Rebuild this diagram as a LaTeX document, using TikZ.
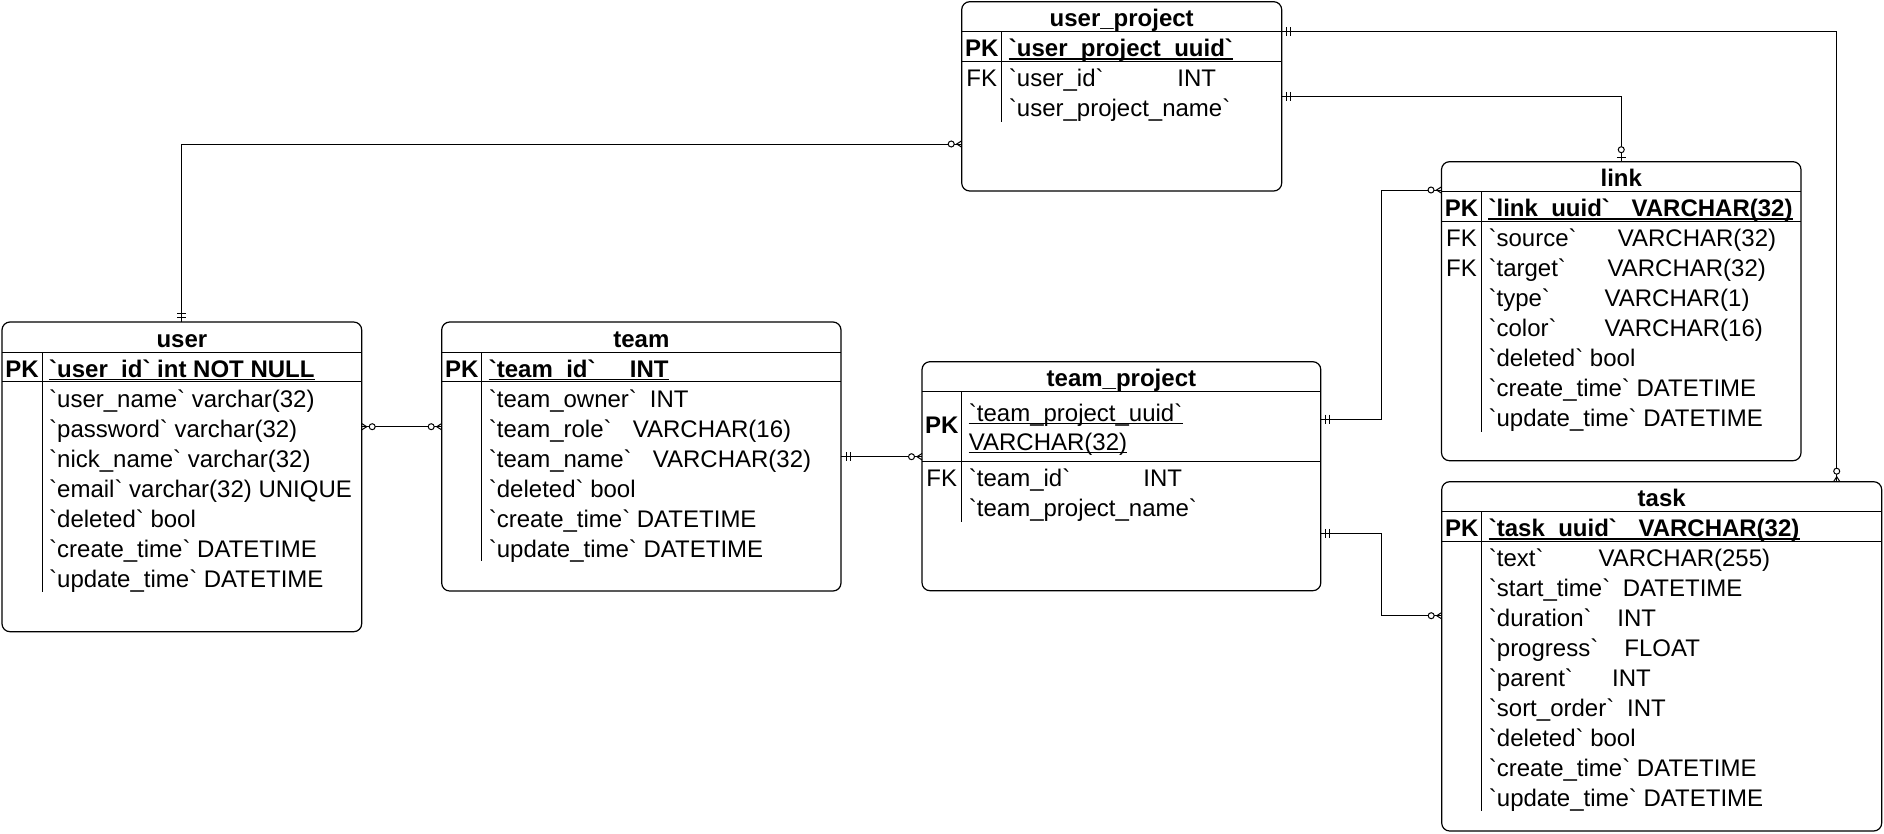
\documentclass[tikz,border=0pt]{standalone}
\usepackage{fontspec}
\newfontfamily\erfont{Liberation Sans}
\newcommand\fld[3]{\makebox[#2pt][l]{#1}#3}
\newcommand\erbox[8]{%
  \node[tbl, anchor=north west, minimum width={#4-#2}, minimum height={#5-#3}] (#1) at (#2,#3) {};
  \draw[sepline] (#2,#3+30) -- (#4,#3+30) (#2,#6) -- (#4,#6) (#7,#3+30) -- (#7,#8);
}
\newcommand\undl[2][1.6pt]{\draw[line width=#1] ([yshift=-2.3pt]#2.base west) -- ([yshift=-2.3pt]#2.base east);}
\begin{document}
\begin{tikzpicture}[x=1pt,y=-1pt,
  tbl/.style={draw, line width=1.2pt, rounded corners=8pt, inner sep=0pt, outer sep=0pt},
  sepline/.style={line width=1pt},
  ttl/.style={font=\erfont\fontsize{24}{28}\selectfont\bfseries, anchor=base, inner sep=0pt},
  pkl/.style={font=\erfont\fontsize{24}{28}\selectfont\bfseries, anchor=base, inner sep=0pt},
  fkl/.style={font=\erfont\fontsize{24}{28}\selectfont, anchor=base, inner sep=0pt},
  pkf/.style={font=\erfont\fontsize{24}{28}\selectfont\bfseries, anchor=base west, inner sep=0pt},
  fld/.style={font=\erfont\fontsize{24}{28}\selectfont, anchor=base west, inner sep=0pt},
  conn/.style={line width=1pt},
  mk/.style={line width=1pt},
  one/.pic={\draw[mk] (5,-4.5) -- (5,4.5) (9,-4.5) -- (9,4.5);},
  zmany/.pic={\draw[mk] (0,-3.2) -- (5,0) -- (0,3.2); \draw[mk, fill=white] (10.5,0) circle[radius=3pt];},
  zone/.pic={\draw[mk] (4,-4.5) -- (4,4.5); \draw[mk, fill=white] (12,0) circle[radius=3pt];}
]
\fill[white] (0,0) rectangle (1884,833);
\useasboundingbox (0,0) rectangle (1884,833);

% ---------------- user
\erbox{user}{2}{322}{361.7}{631.7}{381}{42}{592}
\node[ttl] (user-t) at (181.85,347) {user};
\node[pkl] (user-pkl) at (22,377) {PK};
\node[pkf] (user-pk) at (49,377) {`user\_id` int NOT NULL};
\undl{user-pk}
\node[fld] (user-r1) at (49,407) {`user\_name` varchar(32)};
\node[fld] (user-r2) at (49,437) {`password` varchar(32)};
\node[fld] (user-r3) at (49,467) {`nick\_name` varchar(32)};
\node[fld] (user-r4) at (49,497) {`email` varchar(32) UNIQUE};
\node[fld] (user-r5) at (49,527) {`deleted` bool};
\node[fld] (user-r6) at (49,557) {`create\_time` DATETIME};
\node[fld] (user-r7) at (49,587) {`update\_time` DATETIME};

% ---------------- team
\erbox{team}{441.7}{322}{841}{591}{381}{481.7}{561}
\node[ttl] (team-t) at (641.35,347) {team};
\node[pkl] (team-pkl) at (461.7,377) {PK};
\node[pkf] (team-pk) at (488.7,377) {\fld{`team\_id`}{141}{INT}};
\undl{team-pk}
\node[fld] (team-r1) at (488.7,407) {\fld{`team\_owner`}{161}{INT}};
\node[fld] (team-r2) at (488.7,437) {\fld{`team\_role`}{144}{VARCHAR(16)}};
\node[fld] (team-r3) at (488.7,467) {\fld{`team\_name`}{164}{VARCHAR(32)}};
\node[fld] (team-r4) at (488.7,497) {`deleted` bool};
\node[fld] (team-r5) at (488.7,527) {`create\_time` DATETIME};
\node[fld] (team-r6) at (488.7,557) {`update\_time` DATETIME};

% ---------------- team_project
\erbox{tp}{922}{361.7}{1320.8}{590.7}{461}{961.7}{521.7}
\node[ttl] (tp-t) at (1121.4,386.7) {team\_project};
\node[pkl] (tp-pkl) at (941.8,433) {PK};
\node[fld] (tp-pk1) at (968.7,421) {`team\_project\_uuid`};
\undl[1.2pt]{tp-pk1}
\node[fld] (tp-pk2) at (968.7,450) {VARCHAR(32)\hspace{7pt}};
\undl[1.2pt]{tp-pk2}
\node[fkl] (tp-fk) at (941.8,486) {FK};
\node[fld] (tp-r1) at (968.7,486) {\fld{`team\_id`}{174.5}{INT}};
\node[fld] (tp-r2) at (968.7,516) {`team\_project\_name`};

% ---------------- user_project
\erbox{uproj}{961.7}{1.7}{1281.7}{191}{61}{1001.7}{121.7}
\node[ttl] (uproj-t) at (1121.7,26.7) {user\_project};
\node[pkl] (uproj-pkl) at (981.7,56.7) {PK};
\node[pkf] (uproj-pk) at (1008.7,56.7) {`user\_project\_uuid`};
\undl{uproj-pk}
\node[fkl] (uproj-fk) at (981.7,86.7) {FK};
\node[fld] (uproj-r1) at (1008.7,86.7) {\fld{`user\_id`}{168.5}{INT}};
\node[fld] (uproj-r2) at (1008.7,116.7) {`user\_project\_name`};

% ---------------- link
\erbox{link}{1441.5}{161.7}{1801}{460.7}{221}{1481.4}{431.7}
\node[ttl] (link-t) at (1621.25,186.7) {link};
\node[pkl] (link-pkl) at (1461.5,216.7) {PK};
\node[pkf] (link-pk) at (1488.4,216.7) {\fld{`link\_uuid`}{143}{VARCHAR(32)}};
\undl{link-pk}
\node[fkl] (link-fk1) at (1461.5,246.7) {FK};
\node[fld] (link-r1) at (1488.4,246.7) {\fld{`source`}{129.3}{VARCHAR(32)}};
\node[fkl] (link-fk2) at (1461.5,276.7) {FK};
\node[fld] (link-r2) at (1488.4,276.7) {\fld{`target`}{119}{VARCHAR(32)}};
\node[fld] (link-r3) at (1488.4,306.7) {\fld{`type`}{116}{VARCHAR(1)}};
\node[fld] (link-r4) at (1488.4,336.7) {\fld{`color`}{116}{VARCHAR(16)}};
\node[fld] (link-r5) at (1488.4,366.7) {`deleted` bool};
\node[fld] (link-r6) at (1488.4,396.7) {`create\_time` DATETIME};
\node[fld] (link-r7) at (1488.4,426.7) {`update\_time` DATETIME};

% ---------------- task
\erbox{task}{1441.7}{481.7}{1881.7}{831}{541}{1481.7}{810.7}
\node[ttl] (task-t) at (1661.7,506.7) {task};
\node[pkl] (task-pkl) at (1461.7,536.7) {PK};
\node[pkf] (task-pk) at (1488.7,536.7) {\fld{`task\_uuid`}{149.6}{VARCHAR(32)}};
\undl{task-pk}
\node[fld] (task-r1) at (1488.7,566.7) {\fld{`text`}{109.6}{VARCHAR(255)}};
\node[fld] (task-r2) at (1488.7,596.7) {\fld{`start\_time`}{134}{DATETIME}};
\node[fld] (task-r3) at (1488.7,626.7) {\fld{`duration`}{128.5}{INT}};
\node[fld] (task-r4) at (1488.7,656.7) {\fld{`progress`}{135.5}{FLOAT}};
\node[fld] (task-r5) at (1488.7,686.7) {\fld{`parent`}{123.3}{INT}};
\node[fld] (task-r6) at (1488.7,716.7) {\fld{`sort\_order`}{138.3}{INT}};
\node[fld] (task-r7) at (1488.7,746.7) {`deleted` bool};
\node[fld] (task-r8) at (1488.7,776.7) {`create\_time` DATETIME};
\node[fld] (task-r9) at (1488.7,806.7) {`update\_time` DATETIME};

% ---------------- connectors
\coordinate (k1) at (0,144);
\coordinate (k2) at (0,426.7);
\coordinate (k3) at (0,456.7);
\coordinate (k4) at (1836.7,31.7);
\coordinate (k6) at (1381.8,419);
\coordinate (k6b) at (0,190);
\coordinate (k7) at (1381.8,533.3);
\coordinate (k7b) at (0,615.7);

\draw[conn] (user.north) |- (uproj.west |- k1);
\draw[conn] (user.east |- k2) -- (team.west |- k2);
\draw[conn] (team.east |- k3) -- (tp.west |- k3);
\draw[conn] (uproj.east |- k4) -| (task.north -| k4);
\draw[conn] (uproj.east) -| (link.north);
\draw[conn] (tp.east |- k6) -- (k6) |- (link.west |- k6b);
\draw[conn] (tp.east |- k7) -- (k7) |- (task.west |- k7b);

\pic[rotate=90] at (user.north) {one};
\pic[rotate=180] at (uproj.west |- k1) {zmany};
\pic at (user.east |- k2) {zmany};
\pic[rotate=180] at (team.west |- k2) {zmany};
\pic at (team.east |- k3) {one};
\pic[rotate=180] at (tp.west |- k3) {zmany};
\pic at (uproj.east |- k4) {one};
\pic[rotate=90] at (task.north -| k4) {zmany};
\pic at (uproj.east) {one};
\pic[rotate=90] at (link.north) {zone};
\pic at (tp.east |- k6) {one};
\pic[rotate=180] at (link.west |- k6b) {zmany};
\pic at (tp.east |- k7) {one};
\pic[rotate=180] at (task.west |- k7b) {zmany};
\end{tikzpicture}
\end{document}
